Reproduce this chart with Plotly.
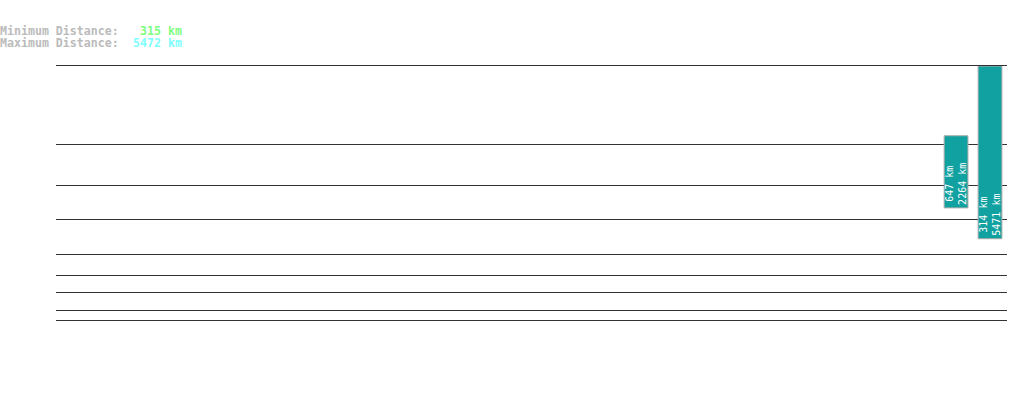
import plotly.graph_objects as go

# ~28 slots along x, only the last two hold a range
categories = ['1', '2', '3', '4', '5', '6', '7', '8', '9', '10', '11', '12', '13', '14',
              '15', '16', '17', '18', '19', '20', '21', '22', '23', '24', '25', '26', '27', '28']
min_km = [None, None, None, None, None, None, None, None, None, None, None, None, None, None,
          None, None, None, None, None, None, None, None, None, None, None, None, 647, 314]
max_km = [None, None, None, None, None, None, None, None, None, None, None, None, None, None,
          None, None, None, None, None, None, None, None, None, None, None, None, 2264, 5471]
grid_km = [10, 20, 50, 100, 200, 500, 1000, 2000]
min_distance = 315
max_distance = 5472

# power scale for the y axis
POW = 0.3


def scale(v):
    return None if v is None else v ** POW


base = [scale(a) for a in min_km]
height = [None if a is None else scale(b) - scale(a) for a, b in zip(min_km, max_km)]
labels = ['' if a is None else f'{a} km<br>{b} km' for a, b in zip(min_km, max_km)]

mono = 'DejaVu Sans Mono, Liberation Mono, monospace'

fig = go.Figure()
fig.add_trace(go.Bar(
    x=categories,
    y=height,
    base=base,
    text=labels,
    textposition='inside',
    insidetextanchor='start',
    textangle=-90,
    textfont=dict(family=mono, size=10, color='white'),
    marker=dict(color='#11a1a1', line=dict(color='#aaaaaa', width=1)),
    showlegend=False,
    hoverinfo='skip',
))

fig.update_layout(
    width=1019, height=402,
    margin=dict(l=56, r=12, t=66, b=36),
    paper_bgcolor='white', plot_bgcolor='white',
    bargap=0.3,
    uniformtext=dict(minsize=10, mode='show'),
    xaxis=dict(side='top', showline=True, linecolor='#333333', linewidth=1,
               showgrid=False, showticklabels=False, ticks='', zeroline=False),
    yaxis=dict(range=[0, scale(max_distance)], tickvals=[scale(v) for v in grid_km],
               showgrid=True, gridcolor='#333333', gridwidth=1,
               showticklabels=False, ticks='', zeroline=False, showline=False),
)

x0 = -58 / 951
x1 = (184 - 56) / 951
rows = [('Minimum Distance:', f'{min_distance} km', '#7fff7f', 31),
        ('Maximum Distance:', f'{max_distance} km', '#7fffff', 43)]
for label, value, color, ypx in rows:
    yp = 1 + (66 - ypx) / 300
    fig.add_annotation(xref='paper', yref='paper', x=x0, y=yp, text='<b>' + label + '</b>',
                       showarrow=False, xanchor='left', yanchor='middle',
                       font=dict(family=mono, size=11.6, color='#bbbbbb'))
    fig.add_annotation(xref='paper', yref='paper', x=x1, y=yp, text='<b>' + value + '</b>',
                       showarrow=False, xanchor='right', yanchor='middle',
                       font=dict(family=mono, size=11.6, color=color))

fig.write_html("out.html", config={'displayModeBar': False},
               post_script="document.body.style.margin = '0';")
